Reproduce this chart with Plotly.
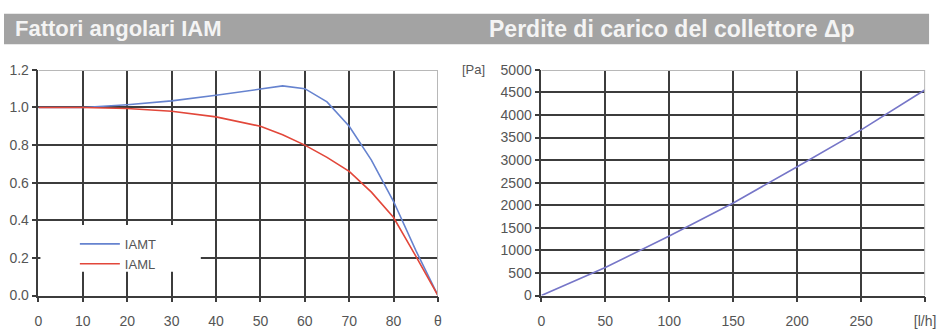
import plotly.graph_objects as go

# ---- data ----
theta = [0, 10, 20, 30, 40, 45, 50, 55, 60, 65, 70, 75, 80, 85, 90]
iamt = [1.0, 1.0, 1.015, 1.035, 1.065, 1.08, 1.098, 1.115, 1.10, 1.03, 0.90, 0.72, 0.50, 0.24, 0.0]
iaml = [1.0, 1.0, 0.995, 0.98, 0.95, 0.925, 0.90, 0.855, 0.80, 0.735, 0.66, 0.55, 0.415, 0.21, 0.0]

flow = [0, 50, 100, 150, 200, 250, 300]
dp = [0, 620, 1320, 2050, 2855, 3670, 4560]

left_xticks = [0, 10, 20, 30, 40, 50, 60, 70, 80, 90]
left_xlabels = ["0", "10", "20", "30", "40", "50", "60", "70", "80", "θ"]
left_yticks = [0.0, 0.2, 0.4, 0.6, 0.8, 1.0, 1.2]
left_ylabels = ["0.0", "0.2", "0.4", "0.6", "0.8", "1.0", "1.2"]
right_xticks = [0, 50, 100, 150, 200, 250, 300]
right_xlabels = ["0", "50", "100", "150", "200", "250", "[l/h]"]
right_yticks = list(range(0, 5001, 500))

title_left = "Fattori angolari IAM"
title_right = "Perdite di carico del collettore Δp"

W, H = 944, 334
TXT = "#555555"
GRID = "#3c3c3c"
FRAME = "#b8b8b8"
FONT = "Liberation Sans, Arial, sans-serif"

fig = go.Figure()
fig.add_trace(go.Scatter(x=theta, y=iamt, mode="lines", name="IAMT",
                         line=dict(color="#6683cf", width=1.6), xaxis="x", yaxis="y"))
fig.add_trace(go.Scatter(x=theta, y=iaml, mode="lines", name="IAML",
                         line=dict(color="#e2473a", width=1.6), xaxis="x", yaxis="y"))
fig.add_trace(go.Scatter(x=flow, y=dp, mode="lines", name="dp", showlegend=False,
                         line=dict(color="#7676c8", width=1.6), xaxis="x2", yaxis="y2"))

ydom = [1 - 302 / H, 1 - 65 / H]
common = dict(showgrid=True, gridcolor=GRID, gridwidth=1.6, showline=True,
              linecolor=GRID, linewidth=1.6, ticks="outside", ticklen=5,
              tickcolor=GRID, tickwidth=1.6, zeroline=False,
              tickfont=dict(family=FONT, size=14, color=TXT), fixedrange=True)

fig.update_layout(
    width=W, height=H, margin=dict(l=0, r=0, t=0, b=0),
    paper_bgcolor="white", plot_bgcolor="white",
    font=dict(family=FONT, color=TXT),
    xaxis=dict(domain=[35 / W, 441 / W], range=[0, 90], tickvals=left_xticks,
               ticktext=left_xlabels, anchor="y", ticklabelstandoff=7, **common),
    yaxis=dict(domain=ydom, range=[0, 1.2], tickvals=left_yticks,
               ticktext=left_ylabels, anchor="x", **common),
    xaxis2=dict(domain=[546 / W, 936 / W], range=[0, 300], tickvals=right_xticks,
                ticktext=right_xlabels, anchor="y2", ticklabelstandoff=7, **common),
    yaxis2=dict(domain=ydom, range=[0, 5000], tickvals=right_yticks,
                anchor="x2", **common),
    legend=dict(x=72 / W, y=1 - 232 / H, xanchor="left", yanchor="top",
                bgcolor="rgba(0,0,0,0)", font=dict(family=FONT, size=13, color=TXT),
                tracegroupgap=0, itemwidth=40),
    showlegend=True,
)

shapes = []
# title bar
shapes.append(dict(type="rect", xref="paper", yref="paper", x0=0, x1=940 / W,
                   y0=1 - 38 / H, y1=1 - 6 / H, fillcolor="#a3a3a3", line=dict(width=0),
                   layer="below"))
# legend background (covers grid)
shapes.append(dict(type="rect", xref="paper", yref="paper", x0=37 / W, x1=200 / W,
                   y0=1 - 277 / H, y1=1 - 228 / H, fillcolor="white", line=dict(width=0),
                   layer="above"))
# light frame top/right
for xr, yr, xmax, ymax in [("x", "y", 90, 1.2), ("x2", "y2", 300, 5000)]:
    shapes.append(dict(type="line", xref=xr, yref=yr, x0=0, x1=xmax, y0=ymax, y1=ymax,
                       line=dict(color=FRAME, width=2), layer="above"))
    shapes.append(dict(type="line", xref=xr, yref=yr, x0=xmax, x1=xmax, y0=0, y1=ymax,
                       line=dict(color=FRAME, width=2), layer="above"))
fig.update_layout(shapes=shapes)

fig.add_annotation(text=f"<b>{title_left}</b>", xref="paper", yref="paper",
                   x=9 / W, y=1 - 22 / H, xanchor="left", yanchor="middle",
                   showarrow=False, font=dict(family=FONT, size=22, color="#f4f4f4"))
fig.add_annotation(text=f"<b>{title_right}</b>", xref="paper", yref="paper",
                   x=491 / W, y=1 - 22 / H, xanchor="left", yanchor="middle",
                   showarrow=False, font=dict(family=FONT, size=23, color="#f4f4f4"))
fig.add_annotation(text="[Pa]", xref="paper", yref="paper",
                   x=491 / W, y=1 - 65 / H, xanchor="right", yanchor="middle",
                   showarrow=False, font=dict(family=FONT, size=13, color=TXT))

fig.write_html("out.html")
